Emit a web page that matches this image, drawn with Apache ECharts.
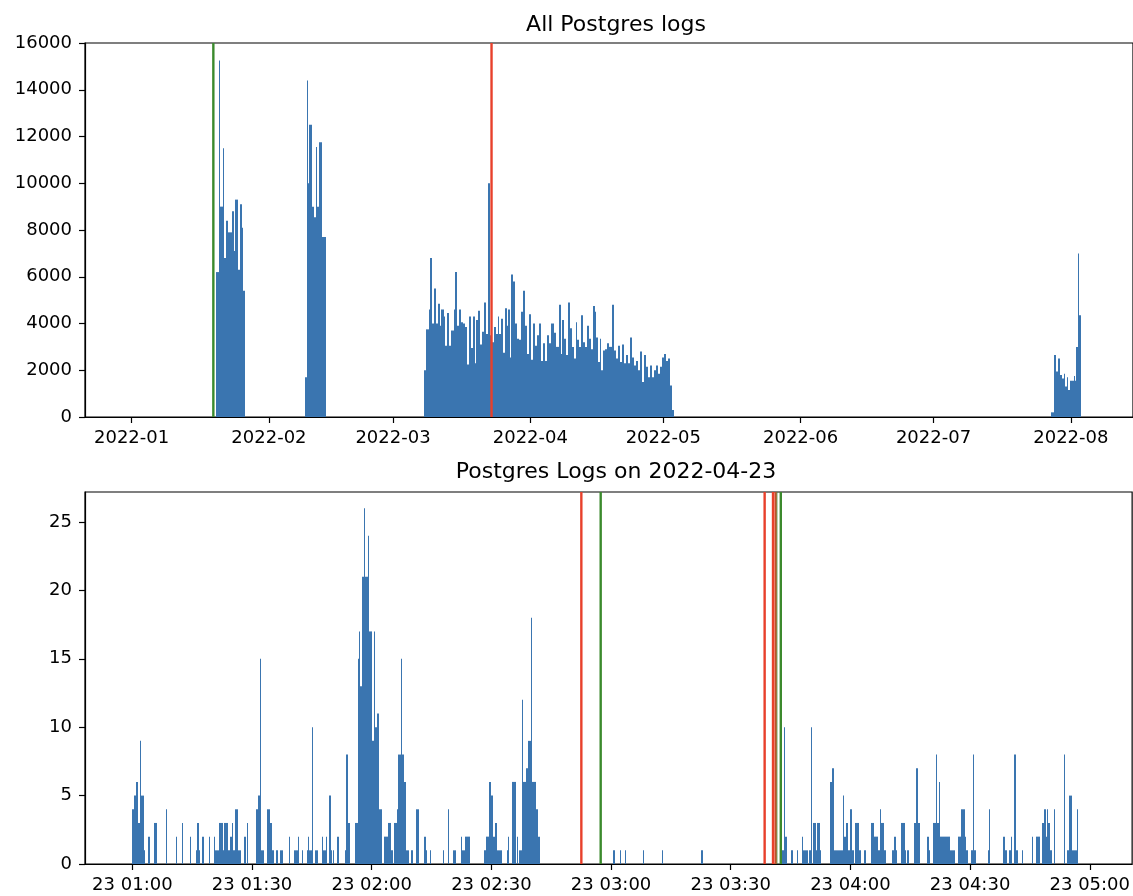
<!DOCTYPE html>
<html>
<head>
<meta charset="utf-8">
<script src="https://cdn.jsdelivr.net/npm/echarts@6/dist/echarts.min.js"></script>
<style>html,body{margin:0;padding:0;background:#fff}#chart{width:1133px;height:896px}</style>
</head>
<body>
<div id="chart"></div>
<script>
// ---------------- DATA ----------------
const topTitle = 'All Postgres logs';
const bottomTitle = 'Postgres Logs on 2022-04-23';

const topTickLabels = ['2022-01','2022-02','2022-03','2022-04','2022-05','2022-06','2022-07','2022-08'];
const topYTicks = [0, 2000, 4000, 6000, 8000, 10000, 12000, 14000, 16000];
const bottomTickLabels = ['23 01:00','23 01:30','23 02:00','23 02:30','23 03:00','23 03:30','23 04:00','23 04:30','23 05:00'];
const bottomYTicks = [0, 5, 10, 15, 20, 25];

// Top histogram bins: [start day, end day, count], days after 2022-01-01
const topBinsJan = [
  [19.15,19.75,6200],[19.75,20.05,15250],[20.05,20.65,9000],[20.65,20.95,11500],
  [20.95,21.25,6800],[21.25,21.85,8400],[21.85,22.75,7900],[22.75,23.05,8800],
  [23.05,23.35,7100],[23.35,24.10,9300],[24.10,24.40,6300],[24.40,24.85,9100],
  [24.85,25.15,8100],[25.15,25.60,5400]
];
const topBinsFeb = [
  [39.05,39.55,1700],[39.55,39.80,14400],[39.80,40.15,10000],[40.15,40.75,12500],
  [40.75,41.20,9000],[41.20,41.65,8550],[41.65,41.95,11550],[41.95,42.25,9000],
  [42.25,43.00,11750],[43.00,43.95,7700]
];
const topBinsMarApr = [
  [66.08,66.53,2000],[66.53,67.13,3750],[67.13,67.43,4600],[67.43,67.80,6800],
  [67.80,68.20,4000],[68.20,68.60,5500],[68.60,69.20,4000],[69.20,69.60,4850],
  [69.60,69.90,3900],[69.90,70.40,4600],[70.40,70.70,4300],[70.70,71.30,3050],
  [71.30,71.60,4450],[71.60,72.10,3050],[72.10,72.70,3700],[72.70,73.00,4600],
  [73.00,73.40,6200],[73.40,73.90,3900],[73.90,74.30,4600],[74.30,74.80,4050],
  [74.80,75.20,4000],[75.20,75.70,3850],[75.70,76.10,2250],[76.10,76.60,4300],
  [76.60,77.00,2950],[77.00,77.50,4300],[77.50,77.80,2300],[77.80,78.25,4150],
  [78.25,78.70,4550],[78.70,79.00,3100],[79.00,79.60,3650],[79.60,79.90,4900],
  [79.90,80.35,3550],[80.35,80.95,10000],[80.95,81.40,3500],[81.40,81.85,3200],
  [81.85,82.15,3850],[82.15,82.60,3550],[82.60,82.90,4300],[82.90,83.35,3550],
  [83.35,83.80,4200],[83.80,84.25,2750],[84.25,84.70,4650],[84.70,85.00,3900],
  [85.00,85.45,4600],[85.45,85.60,2550],[85.60,86.05,6100],[86.05,86.65,5800],
  [86.65,87.10,4000],[87.10,87.55,3350],[87.55,88.00,3300],[88.00,88.45,4500],
  [88.45,88.90,5400],[88.90,89.35,3900],[89.35,89.80,2700],[89.80,90.25,4400],
  [90.25,90.70,2450],[90.70,91.15,4000],[91.15,91.60,3050],[91.60,92.05,3500],
  [92.05,92.50,4000],[92.50,92.95,2400],[92.95,93.40,3150],[93.40,93.85,2400],
  [93.85,94.30,3500],[94.30,94.75,3150],[94.75,95.35,4000],[95.35,95.80,3600],
  [95.80,96.40,3000],[96.40,96.85,4800],[96.85,97.15,2700],[97.15,97.60,4150],
  [97.60,98.05,3350],[98.05,98.50,2650],[98.50,98.95,4900],[98.95,99.40,3800],
  [99.40,99.85,3000],[99.85,100.30,2500],[100.30,100.60,4050],[100.60,101.05,3300],
  [101.05,101.50,3000],[101.50,101.80,4350],[101.80,102.25,3200],[102.25,102.70,3000],
  [102.70,103.15,3900],[103.15,103.60,3350],[103.60,104.05,2900],[104.05,104.50,4750],
  [104.50,104.80,4500],[104.80,105.25,3400],[105.25,105.70,2350],[105.70,106.00,3350],
  [106.00,106.45,2000],[106.45,106.90,2850],[106.90,107.35,2900],[107.35,107.80,3150],
  [107.80,108.40,3000],[108.40,108.85,4800],[108.85,109.30,2850],[109.30,109.75,2500],
  [109.75,110.20,3050],[110.20,110.65,2350],[110.65,111.10,3100],[111.10,111.55,2300],
  [111.55,112.00,2650],[112.00,112.45,2300],[112.45,112.90,3400],[112.90,113.35,2550],
  [113.35,113.80,2200],[113.80,114.25,2400],[114.25,114.70,2000],[114.70,115.15,2800],
  [115.15,115.60,1500],[115.60,116.05,2650],[116.05,116.50,2150],[116.50,116.95,1700],
  [116.95,117.40,2200],[117.40,117.85,1700],[117.85,118.30,2000],[118.30,118.75,2200],
  [118.75,119.20,1850],[119.20,119.65,2150],[119.65,120.10,2550],[120.10,120.55,2700],
  [120.55,121.00,2400],[121.00,121.45,2500],[121.45,121.90,1350],[121.90,122.35,300]
];
const topBinsJulAug = [
  [207.60,208.25,200],[208.25,208.70,2650],[208.70,209.00,1950],[209.00,209.45,2500],
  [209.45,209.90,1800],[209.90,210.35,1650],[210.35,210.65,1850],[210.65,211.10,1300],
  [211.10,211.40,1700],[211.40,211.70,1150],[211.70,212.15,1550],[212.15,212.60,1550],
  [212.60,212.90,1750],[212.90,213.20,1550],[213.20,213.65,3000],[213.65,213.95,7000],
  [213.95,214.40,4350]
];
const topGreenMarks = [18.45];   // days after 2022-01-01
const topRedMarks = [81.24];

// Bottom histogram bins: [start minute, end minute, count], minutes after 2022-04-23 01:00
const bottomBinsEarly = [
  [0,0.5,4],[0.5,1,5],[1,1.5,6],[1.5,2,3],[2,2.25,9],[2.25,3,5],[3,3.25,1],
  [4,4.5,2],[5.5,6.25,3],[8.5,8.75,4],[11,11.25,2],[12.5,12.75,3],[14.5,14.75,2],
  [16,16.25,1],[16.25,16.75,3],[16.75,17,1],[17.5,18,2],[19.25,19.5,2],[20.5,20.75,2],
  [20.75,21.75,1],[21.75,22.75,3],[22.75,23,1],[23,24,3],[24,24.5,1],[24.5,25,2],
  [25,25.25,3],[25.25,25.75,1],[25.75,26.5,4],[26.5,27.25,1],[28,28.5,2],[28.75,29,3],
  [31,31.5,4],[31.5,32,5],[32,32.25,15],[32.25,33,1],[33.75,34.5,4],[34.5,35,3],
  [35,35.5,1],[36,36.5,1],[37,37.75,1],[39.25,39.5,2],[40.5,41.5,1],[41.5,41.75,2],
  [42.5,42.75,1],[43.75,44,1],[44,44.25,2],[44.25,45,1],[45,45.25,10],
  [45.75,46.5,1],[47.5,47.75,2],[47.75,48.5,1],[48.5,48.75,2],[49.25,49.75,5],
  [49.75,50,1],[50.25,50.5,1],[51.25,51.75,2],[53.25,53.5,1],[53.5,54,8],[54,54.5,3]
];
const bottomBinsPeak = [
  [55.75,56.5,3],[56.5,56.75,15],[56.75,57,17],[57,57.5,13],[57.5,58,21],[58,58.25,26],
  [58.25,59,21],[59,59.25,24],[59.25,60,17],[60,60.5,9],[60.5,60.75,17],[60.75,61.25,10],
  [61.25,61.75,11],[61.75,62.5,4],[63,64,2],[64,64.75,3],[64.75,65.25,1],[65.5,66.25,3],
  [66.25,66.5,4],[66.5,67.25,8],[67.25,67.5,15],[67.5,68,8],[68,68.5,6],[68.5,69.25,1],
  [69.75,70.25,1],[71,71.75,4],[73,73.5,2],[73.5,73.75,1],[74.5,74.75,1],[77.75,78,1],
  [79,79.25,4],[80.5,81.25,1],[82.5,82.75,2],[82.75,83.5,1],[83.5,84.75,2],
  [88.25,88.75,1],[88.75,89.5,2],[89.5,90,6],[90,90.5,5],[90.5,91,2],[91,91.5,3],
  [91.5,92.75,1],[94,94.25,1],[94.25,94.5,2],[95.25,96.25,6],[96.5,96.75,2],[97,97.75,1],
  [97.75,98,12],[98,98.75,6],[98.75,99.25,7],[99.25,100,9],[100,100.25,18],
  [100.25,101.25,6],[101.25,101.75,4],[101.75,102.25,2]
];
const bottomBinsQuiet = [
  [120.5,121,1],[122.25,122.5,1],[123.5,123.75,1],[128,128.25,1],[132.75,133,1],[142.5,143,1]
];
const bottomBinsLate = [
  [162.75,163.25,1],[163.25,163.5,10],[163.5,164,2],[165,165.5,1],[166.5,166.75,1],
  [167.75,168,2],[168,169.25,1],[169.5,170,1],[170,170.25,10],[170.5,171.25,3],
  [171.25,171.75,1],[171.75,172.5,3],[172.5,172.75,1],[175,175.5,6],[175.5,176,7],
  [176,178.25,1],[178.25,178.5,5],[178.5,179,2],[179,179.5,3],[179.5,180,1],[180,180.5,4],
  [180.5,181,1],[181.25,182.25,3],[182.25,182.75,1],[183.5,184,1],[185.25,186,3],
  [186,187,2],[187,187.5,1],[187.5,187.75,4],[187.75,188.5,3],[188.5,189,1],
  [190.5,191,1],[191,191.5,2],[191.5,191.75,1],[192.75,193.75,3],[193.75,194,1],
  [194.25,194.75,1],[196,196.5,3],[196.5,197,7],[197,197.5,3],[199.25,199.75,2],
  [199.75,200,1],[200.75,201.5,3],[201.5,201.75,8],[201.75,202.25,3],[202.25,202.5,6],
  [202.5,205,2],[205,206.25,1],[207,207.75,2],[207.75,208.75,4],[208.75,209,2],
  [209,209.5,1],[210.25,210.75,1],[210.75,211,8],[211,211.5,1],[214.5,214.75,1],
  [214.75,215,4],[218.25,218.75,2],[218.75,219.25,1],[219.75,220.25,1],[220.25,220.5,2],
  [221,221.5,8],[221.5,222,1],[223,223.25,1],[225.5,225.75,2],[226.5,227.5,2],
  [228,228.5,3],[228.5,229,4],[229,229.25,2],[229.25,229.5,4],[229.5,230,3],[230,230.5,1],
  [231,231.25,4],[233.5,233.75,8],[234.25,234.75,1],[234.75,235.5,5],[235.5,236.75,1],
  [236.75,237,4]
];
const bottomRedMarks = [112.55, 158.5, 160.6, 161.25];   // minutes after 01:00
const bottomGreenMarks = [117.4, 162.55];
const bottomOverlapGreenMarks = [161.5];

// ---------------- CHART ----------------
const DAY = 86400000, MIN = 60000;
const topOrigin = Date.UTC(2022, 0, 1);
const bottomOrigin = Date.UTC(2022, 3, 23, 1, 0);
const toTop = d => topOrigin + d * DAY;
const toBottom = m => bottomOrigin + m * MIN;

const topTickValues = topTickLabels.map(s => { const [y, m] = s.split('-').map(Number); return Date.UTC(y, m - 1, 1); });
const bottomTickValues = bottomTickLabels.map(s => { const [d, hm] = s.split(' '); const [h, mi] = hm.split(':').map(Number); return Date.UTC(2022, 3, Number(d), h, mi); });

const BAR = '#3a75b0';
const RED = '#e8402b';
const GREEN = '#3b8a2d';
const FONT = 'DejaVu Sans';

function binSeries(data, xi, yi) {
  return {
    type: 'custom', xAxisIndex: xi, yAxisIndex: yi,
    data: data, encode: { x: [0, 1], y: 2 },
    renderItem: function (params, api) {
      const a = api.coord([api.value(0), api.value(2)]);
      const b = api.coord([api.value(1), 0]);
      const x0 = Math.round(a[0]);
      const x1 = Math.max(x0 + 1, Math.round(b[0]));
      return { type: 'rect', shape: { x: x0, y: a[1], width: x1 - x0, height: b[1] - a[1] }, style: { fill: BAR } };
    }
  };
}
function vlineSeries(values, xi, yi, color, opacity) {
  return {
    type: 'custom', xAxisIndex: xi, yAxisIndex: yi, z: 5,
    data: values.map(v => [v, 0]), encode: { x: 0, y: 1 },
    renderItem: function (params, api) {
      const p = api.coord([api.value(0), 0]);
      const cs = params.coordSys;
      return { type: 'line', shape: { x1: p[0], y1: cs.y, x2: p[0], y2: cs.y + cs.height },
               style: { stroke: color, lineWidth: 2.4, opacity: opacity } };
    }
  };
}

const topBins = [].concat(topBinsJan, topBinsFeb, topBinsMarApr, topBinsJulAug).map(b => [toTop(b[0]), toTop(b[1]), b[2]]);
const bottomBins = [].concat(bottomBinsEarly, bottomBinsPeak, bottomBinsQuiet, bottomBinsLate).map(b => [toBottom(b[0]), toBottom(b[1]), b[2]]);

const axisCommonX = (ticks, labels) => ({
  type: 'value', splitLine: { show: false },
  axisLine: { show: true, onZero: false, lineStyle: { color: '#000', width: 1.2 } },
  axisTick: { show: true, length: 6, lineStyle: { color: '#000', width: 1.2 }, customValues: ticks },
  axisLabel: { customValues: ticks, margin: 12, color: '#000', fontFamily: FONT, fontSize: 18,
    formatter: v => { const i = ticks.indexOf(v); return i >= 0 ? labels[i] : ''; } }
});
const axisCommonY = (ticks) => ({
  type: 'value', splitLine: { show: false },
  axisLine: { show: true, lineStyle: { color: '#000', width: 1.2 } },
  axisTick: { show: true, length: 6, lineStyle: { color: '#000', width: 1.2 }, customValues: ticks },
  axisLabel: { customValues: ticks, margin: 13, color: '#000', fontFamily: FONT, fontSize: 18, formatter: v => String(v) }
});

const chart = echarts.init(document.getElementById('chart'), null, { renderer: 'canvas' });
chart.setOption({
  animation: false,
  backgroundColor: '#fff',
  title: [
    { text: topTitle, left: 611, top: 9, textAlign: 'center', textStyle: { fontFamily: FONT, fontSize: 22, fontWeight: 'normal', color: '#000' } },
    { text: bottomTitle, left: 611, top: 456, textAlign: 'center', textStyle: { fontFamily: FONT, fontSize: 22, fontWeight: 'normal', color: '#000' } }
  ],
  grid: [
    { left: 85, right: -2, top: 43, height: 374, show: true, borderColor: '#000', borderWidth: 1.2, backgroundColor: 'transparent' },
    { left: 85, right: -2, top: 492, height: 372, show: true, borderColor: '#000', borderWidth: 1.2, backgroundColor: 'transparent' }
  ],
  xAxis: [
    Object.assign(axisCommonX(topTickValues, topTickLabels), { gridIndex: 0, min: toTop(-10.52), max: toTop(226.03) }),
    Object.assign(axisCommonX(bottomTickValues, bottomTickLabels), { gridIndex: 1, min: toBottom(-11.875), max: toBottom(250.625) })
  ],
  yAxis: [
    Object.assign(axisCommonY(topYTicks), { gridIndex: 0, min: 0, max: 16000 }),
    Object.assign(axisCommonY(bottomYTicks), { gridIndex: 1, min: 0, max: 27.19 })
  ],
  series: [
    binSeries(topBins, 0, 0),
    binSeries(bottomBins, 1, 1),
    vlineSeries(topGreenMarks.map(toTop), 0, 0, GREEN, 1),
    vlineSeries(topRedMarks.map(toTop), 0, 0, RED, 1),
    vlineSeries(bottomRedMarks.map(toBottom), 1, 1, RED, 1),
    vlineSeries(bottomGreenMarks.map(toBottom), 1, 1, GREEN, 1),
    vlineSeries(bottomOverlapGreenMarks.map(toBottom), 1, 1, GREEN, 0.45)
  ]
});
</script>
</body>
</html>
